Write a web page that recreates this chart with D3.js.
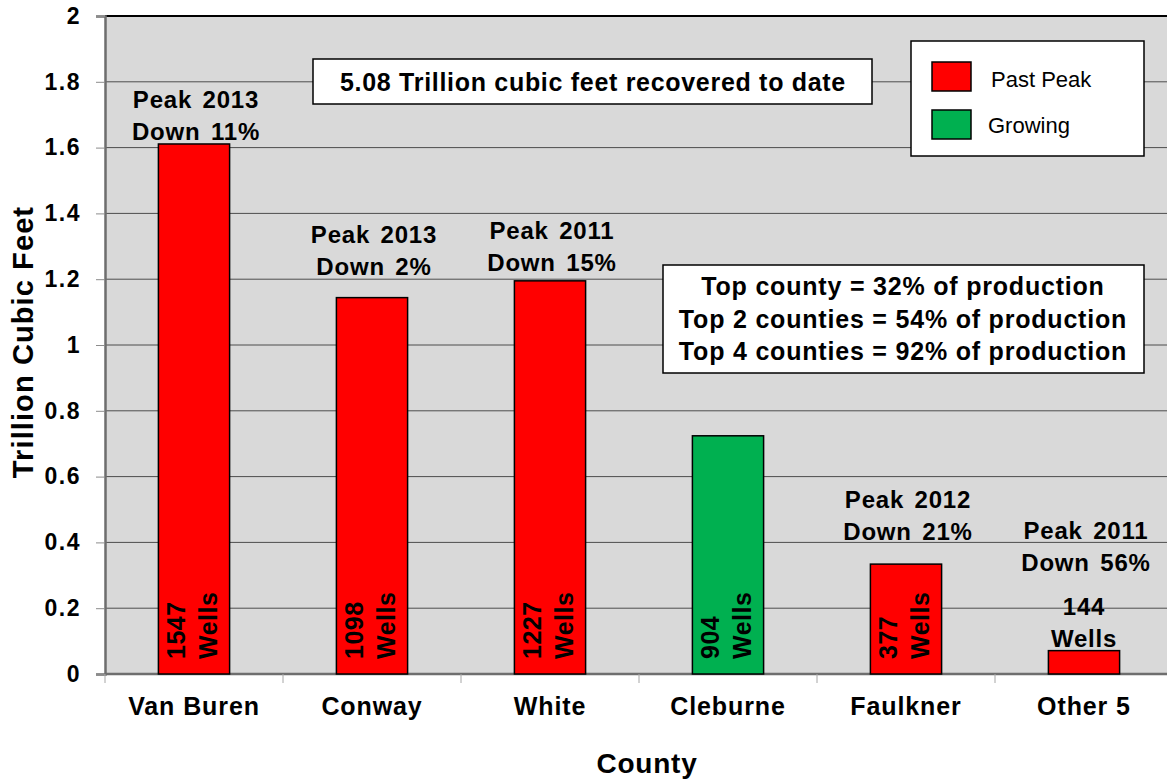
<!DOCTYPE html>
<html>
<head>
<meta charset="utf-8">
<script src="https://cdn.jsdelivr.net/npm/d3@7"></script>
<style>
  html, body { margin: 0; padding: 0; background: #ffffff; }
  svg { display: block; font-family: "Liberation Sans", Arial, sans-serif; }
</style>
</head>
<body>
<svg id="chart" width="1167" height="781"></svg>
<script>
// ---- data ----
const categories = ["Van Buren", "Conway", "White", "Cleburne", "Faulkner", "Other 5"];
const production = [1.611, 1.144, 1.195, 0.724, 0.334, 0.071];
const status = ["Past Peak", "Past Peak", "Past Peak", "Growing", "Past Peak", "Past Peak"];
const wells = [1547, 1098, 1227, 904, 377, 144];
const peakNotes = ["Peak 2013", "Peak 2013", "Peak 2011", null, "Peak 2012", "Peak 2011"];
const downNotes = ["Down 11%", "Down 2%", "Down 15%", null, "Down 21%", "Down 56%"];
const yTicks = [0, 0.2, 0.4, 0.6, 0.8, 1, 1.2, 1.4, 1.6, 1.8, 2];
const yTickLabels = ["0", "0.2", "0.4", "0.6", "0.8", "1", "1.2", "1.4", "1.6", "1.8", "2"];
const legendItems = ["Past Peak", "Growing"];
const totalNote = "5.08 Trillion cubic feet recovered to date";
const shareNotes = ["Top county = 32% of production", "Top 2 counties = 54% of production", "Top 4 counties = 92% of production"];
const yTitle = "Trillion Cubic Feet";
const xTitle = "County";

// ---- layout ----
const plot = { left: 105, right: 1173, top: 16, bottom: 674 };
const colors = { "Past Peak": "#ff0000", "Growing": "#00b050" };
const noteLift = [4, 23, 10, 0, 24, 80];

const svg = d3.select("#chart");
const x = d3.scaleBand().domain(categories).range([plot.left, plot.right]).paddingInner(0.6).paddingOuter(0.3);
const xEdge = d3.scaleBand().domain(categories).range([plot.left, plot.right]).padding(0);
const y = d3.scaleLinear().domain([0, 2]).range([plot.bottom, plot.top]);
const color = d3.scaleOrdinal().domain(legendItems).range(legendItems.map(k => colors[k]));

// plot background
svg.append("rect")
  .attr("x", plot.left).attr("y", plot.top)
  .attr("width", plot.right - plot.left).attr("height", plot.bottom - plot.top)
  .attr("fill", "#d9d9d9");

// gridlines
svg.append("g").selectAll("line")
  .data(yTicks.filter(t => t > 0 && t < 2))
  .join("line")
  .attr("x1", plot.left).attr("x2", plot.right)
  .attr("y1", d => y(d)).attr("y2", d => y(d))
  .attr("stroke", "#4d4d4d").attr("stroke-width", 1);

// top border
svg.append("line")
  .attr("x1", plot.left).attr("x2", plot.right)
  .attr("y1", y(2)).attr("y2", y(2))
  .attr("stroke", "#000").attr("stroke-width", 2);

// y axis
const yAxis = d3.axisLeft(y).tickValues(yTicks).tickSize(9).tickPadding(15)
  .tickFormat((d, i) => yTickLabels[i]);
const gy = svg.append("g").attr("transform", `translate(${plot.left},0)`).call(yAxis);
gy.select(".domain").attr("stroke", "#6e6e6e").attr("stroke-width", 2.5);
gy.selectAll(".tick line").attr("stroke", "#8c8c8c").attr("stroke-width", 1);
gy.selectAll(".tick text").attr("font-size", 23).attr("font-weight", "bold").attr("fill", "#000")
  .attr("letter-spacing", 1.5)
  .attr("font-family", "'Liberation Sans', Arial, sans-serif");

// x axis
svg.append("line")
  .attr("x1", plot.left).attr("x2", plot.right)
  .attr("y1", y(0)).attr("y2", y(0))
  .attr("stroke", "#6e6e6e").attr("stroke-width", 2.5);
svg.append("g").selectAll("line")
  .data(categories.map(c => xEdge(c)).concat([plot.right]))
  .join("line")
  .attr("x1", d => d).attr("x2", d => d)
  .attr("y1", y(0)).attr("y2", y(0) + 9)
  .attr("stroke", "#a6a6a6").attr("stroke-width", 1);
svg.append("g").selectAll("text")
  .data(categories)
  .join("text")
  .attr("x", d => xEdge(d) + xEdge.bandwidth() / 2)
  .attr("y", 715)
  .attr("text-anchor", "middle")
  .attr("font-size", 25).attr("font-weight", "bold").attr("letter-spacing", 0.9)
  .text(d => d);

// axis titles
svg.append("text")
  .attr("transform", `translate(33,342) rotate(-90)`)
  .attr("text-anchor", "middle")
  .attr("font-size", 29).attr("font-weight", "bold").attr("letter-spacing", 1.1)
  .text(yTitle);
svg.append("text")
  .attr("x", 647).attr("y", 773)
  .attr("text-anchor", "middle")
  .attr("font-size", 28).attr("font-weight", "bold").attr("letter-spacing", 0.8)
  .text(xTitle);

// bars
const rows = categories.map((c, i) => ({ c, v: production[i], s: status[i], w: wells[i], p: peakNotes[i], dn: downNotes[i], lift: noteLift[i] }));
svg.append("g").selectAll("rect")
  .data(rows)
  .join("rect")
  .attr("x", d => x(d.c))
  .attr("y", d => y(d.v))
  .attr("width", x.bandwidth())
  .attr("height", d => y(0) - y(d.v))
  .attr("fill", d => color(d.s))
  .attr("stroke", "#000").attr("stroke-width", 1.5);

// wells labels
rows.forEach((d, i) => {
  const cx = x(d.c) + x.bandwidth() / 2;
  if (i < rows.length - 1) {
    const g = svg.append("g").attr("font-size", 25).attr("font-weight", "bold").attr("letter-spacing", 0.5);
    g.append("text").attr("transform", `translate(${cx - 9},659) rotate(-90)`).text(d.w);
    g.append("text").attr("transform", `translate(${cx + 23},659) rotate(-90)`).text("Wells");
  } else {
    const top = y(d.v);
    const g = svg.append("g").attr("font-size", 24).attr("font-weight", "bold").attr("text-anchor", "middle").attr("letter-spacing", 0.8);
    g.append("text").attr("x", cx).attr("y", top - 4).text("Wells");
    g.append("text").attr("x", cx).attr("y", top - 36).text(d.w);
  }
  if (d.p) {
    const base = y(d.v) - d.lift;
    const g = svg.append("g").attr("font-size", 24).attr("font-weight", "bold").attr("text-anchor", "middle")
      .attr("letter-spacing", 0.8).attr("word-spacing", 3);
    g.append("text").attr("x", cx + 2).attr("y", base).text(d.dn);
    g.append("text").attr("x", cx + 2).attr("y", base - 32).text(d.p);
  }
});

// total box
svg.append("rect").attr("x", 313).attr("y", 59).attr("width", 559).attr("height", 45)
  .attr("fill", "#fff").attr("stroke", "#000").attr("stroke-width", 1.5);
svg.append("text").attr("x", 593).attr("y", 91).attr("text-anchor", "middle")
  .attr("font-size", 25).attr("font-weight", "bold").attr("letter-spacing", 0.7).text(totalNote);

// share box
svg.append("rect").attr("x", 663).attr("y", 265).attr("width", 481).attr("height", 108)
  .attr("fill", "#fff").attr("stroke", "#000").attr("stroke-width", 1.5);
svg.append("g").selectAll("text").data(shareNotes).join("text")
  .attr("x", 903).attr("y", (d, i) => 295 + i * 32.5)
  .attr("text-anchor", "middle")
  .attr("font-size", 25).attr("font-weight", "bold").attr("letter-spacing", 0.8).text(d => d);

// legend
const lg = svg.append("g");
lg.append("rect").attr("x", 911).attr("y", 41).attr("width", 233).attr("height", 115)
  .attr("fill", "#fff").attr("stroke", "#000").attr("stroke-width", 1.5);
const li = lg.selectAll("g.item").data(legendItems).join("g").attr("class", "item");
li.append("rect").attr("x", 932).attr("y", (d, i) => 62 + i * 48)
  .attr("width", 39).attr("height", 29)
  .attr("fill", d => color(d)).attr("stroke", "#000").attr("stroke-width", 1.5);
li.append("text").attr("x", (d, i) => i === 0 ? 991 : 988).attr("y", (d, i) => 87 + i * 46)
  .attr("font-size", 22).text(d => d);
</script>
</body>
</html>
